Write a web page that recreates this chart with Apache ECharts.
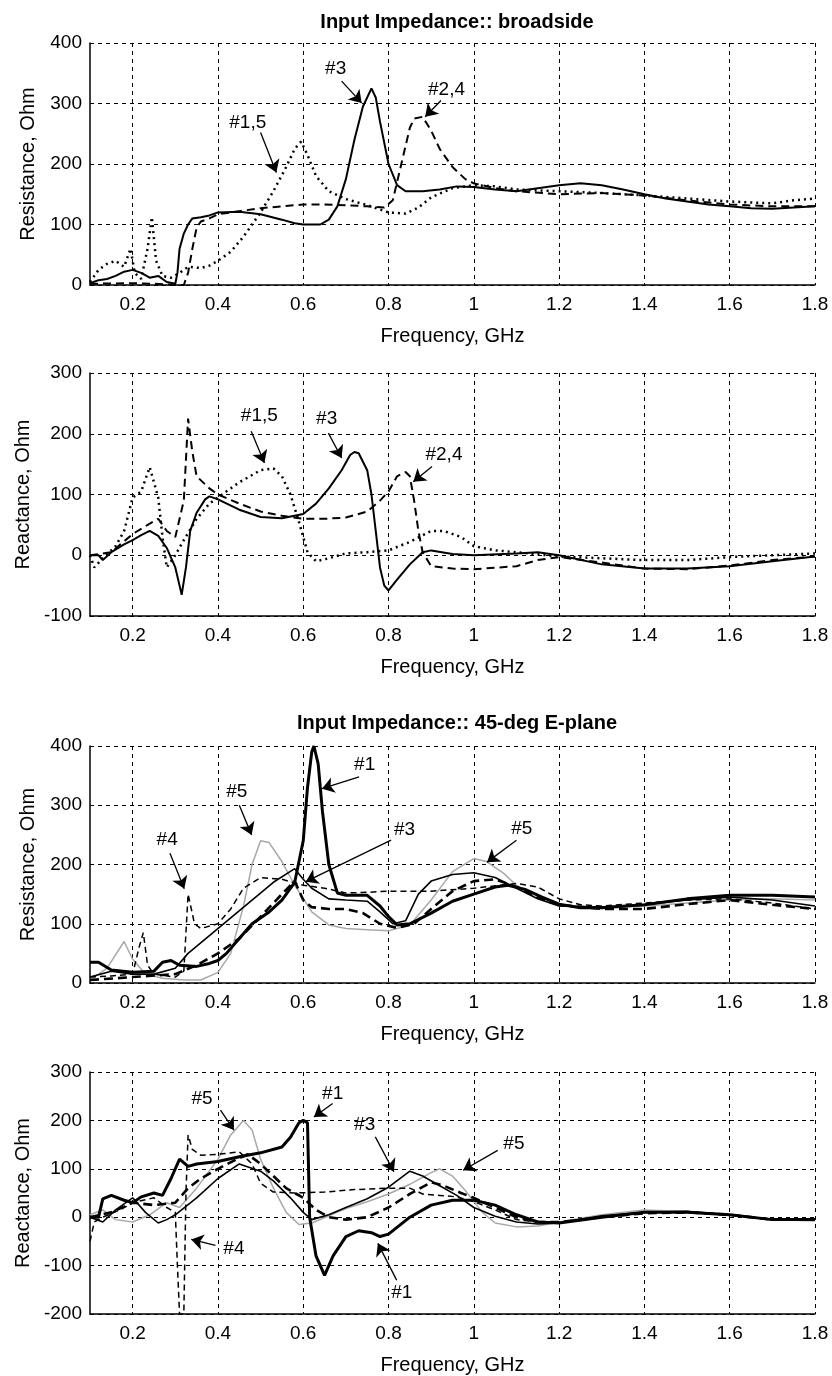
<!DOCTYPE html>
<html><head><meta charset="utf-8">
<script src="https://cdn.jsdelivr.net/npm/echarts@6/dist/echarts.min.js"></script>
<style>html,body{margin:0;padding:0;background:#fff}#c{width:832px;height:1376px}</style>
</head><body><div id="c"></div><script>
const FONT = 'Liberation Sans, Arial, sans-serif';
const xTicks = [0.2,0.4,0.6,0.8,1.0,1.2,1.4,1.6,1.8];
const titles = ['Input Impedance:: broadside', 'Input Impedance:: 45-deg E-plane'];
const xName = 'Frequency, GHz';
const yNames = ['Resistance, Ohm','Reactance, Ohm','Resistance, Ohm','Reactance, Ohm'];
const yRanges = [[0,400],[-100,300],[0,400],[-200,300]];

// Panel 1: broadside resistance
const br_R_3 = [[0.10,3],[0.12,8],[0.14,10],[0.16,15],[0.18,22],[0.20,25],[0.22,20],[0.24,12],[0.26,15],[0.28,5],[0.30,2],[0.305,20],[0.31,60],[0.32,85],[0.33,100],[0.34,110],[0.36,112],[0.38,115],[0.40,120],[0.45,121],[0.50,117],[0.55,108],[0.58,102],[0.60,100],[0.64,100],[0.66,108],[0.68,130],[0.70,175],[0.72,240],[0.74,295],[0.76,325],[0.77,310],[0.78,270],[0.80,200],[0.82,165],[0.84,155],[0.88,155],[0.92,158],[0.96,163],[1.00,162],[1.05,158],[1.10,155],[1.15,160],[1.20,165],[1.25,168],[1.30,165],[1.35,158],[1.40,150],[1.45,143],[1.50,138],[1.55,133],[1.60,130],[1.65,127],[1.70,126],[1.75,128],[1.80,130]];
const br_R_24 = [[0.10,2],[0.20,3],[0.25,2],[0.30,0],[0.32,0],[0.33,20],[0.34,60],[0.35,95],[0.36,105],[0.38,110],[0.40,117],[0.45,122],[0.50,127],[0.55,130],[0.60,133],[0.65,133],[0.70,132],[0.75,130],[0.79,128],[0.81,140],[0.83,200],[0.85,260],[0.86,275],[0.88,278],[0.90,255],[0.92,225],[0.95,195],[0.98,175],[1.00,168],[1.05,160],[1.10,155],[1.20,150],[1.30,152],[1.40,148],[1.50,140],[1.60,133],[1.70,130],[1.80,130]];
const br_R_15 = [[0.10,5],[0.12,25],[0.14,35],[0.16,40],[0.18,30],[0.195,60],[0.205,20],[0.22,10],[0.235,60],[0.245,112],[0.255,40],[0.27,15],[0.29,12],[0.31,20],[0.33,30],[0.36,28],[0.38,32],[0.40,40],[0.43,55],[0.46,80],[0.50,120],[0.53,155],[0.56,195],[0.58,225],[0.595,237],[0.61,215],[0.63,180],[0.66,155],[0.70,142],[0.75,132],[0.80,120],[0.84,118],[0.87,128],[0.90,145],[0.95,160],[1.00,165],[1.05,163],[1.10,158],[1.20,155],[1.30,152],[1.40,148],[1.50,143],[1.60,138],[1.70,135],[1.75,140],[1.80,143]];

// Panel 2: broadside reactance
const br_X_3 = [[0.10,0],[0.12,0],[0.13,-8],[0.15,5],[0.18,18],[0.20,25],[0.22,33],[0.24,40],[0.26,32],[0.28,12],[0.30,-20],[0.31,-50],[0.315,-65],[0.325,-20],[0.335,40],[0.35,70],[0.37,92],[0.38,97],[0.40,92],[0.45,75],[0.50,63],[0.55,61],[0.60,68],[0.63,85],[0.66,110],[0.69,140],[0.71,165],[0.72,170],[0.73,168],[0.75,140],[0.76,100],[0.77,40],[0.78,-20],[0.79,-50],[0.80,-58],[0.82,-40],[0.85,-15],[0.88,5],[0.90,8],[0.95,2],[1.00,0],[1.10,3],[1.15,5],[1.20,0],[1.30,-15],[1.40,-22],[1.50,-22],[1.60,-18],[1.70,-10],[1.80,-2]];
const br_X_24 = [[0.10,0],[0.15,5],[0.20,35],[0.24,52],[0.26,60],[0.28,40],[0.30,30],[0.32,90],[0.33,225],[0.34,170],[0.35,130],[0.38,110],[0.40,100],[0.45,85],[0.50,72],[0.55,65],[0.60,60],[0.65,60],[0.70,62],[0.75,72],[0.78,90],[0.80,105],[0.82,130],[0.84,137],[0.85,130],[0.86,90],[0.87,40],[0.88,5],[0.90,-18],[0.95,-22],[1.00,-23],[1.10,-18],[1.15,-8],[1.20,-3],[1.30,-12],[1.40,-22],[1.50,-23],[1.60,-17],[1.70,-8],[1.80,-2]];
const br_X_15 = [[0.10,0],[0.11,-20],[0.13,-5],[0.16,15],[0.18,40],[0.20,95],[0.22,105],[0.24,145],[0.26,95],[0.27,30],[0.28,-20],[0.30,0],[0.32,25],[0.35,60],[0.38,85],[0.40,95],[0.45,120],[0.50,140],[0.53,143],[0.55,130],[0.57,100],[0.59,55],[0.61,5],[0.63,-10],[0.66,-5],[0.70,3],[0.75,5],[0.80,8],[0.85,22],[0.90,40],[0.93,40],[0.97,30],[1.00,15],[1.05,8],[1.10,5],[1.20,-2],[1.30,-5],[1.40,-8],[1.50,-8],[1.60,-3],[1.70,0],[1.80,3]];

// Panel 3: 45-deg E-plane resistance
const e_R_1 = [[0.10,35],[0.12,35],[0.15,22],[0.20,18],[0.25,20],[0.27,35],[0.29,38],[0.31,30],[0.35,28],[0.38,33],[0.40,38],[0.42,50],[0.45,75],[0.48,100],[0.52,120],[0.55,140],[0.58,170],[0.60,240],[0.61,330],[0.62,390],[0.625,400],[0.635,370],[0.645,290],[0.66,200],[0.68,152],[0.70,148],[0.75,148],[0.78,130],[0.80,112],[0.82,98],[0.85,100],[0.90,118],[0.95,138],[1.00,150],[1.05,162],[1.08,165],[1.12,158],[1.16,145],[1.20,133],[1.25,127],[1.30,127],[1.40,132],[1.50,142],[1.60,148],[1.70,148],[1.80,145]];
const e_R_2 = [[0.10,5],[0.20,10],[0.30,15],[0.35,30],[0.40,50],[0.45,75],[0.50,112],[0.55,150],[0.58,172],[0.60,140],[0.62,128],[0.66,125],[0.70,125],[0.74,118],[0.78,100],[0.82,93],[0.86,100],[0.90,125],[0.95,155],[1.00,172],[1.05,175],[1.10,162],[1.15,145],[1.20,132],[1.30,125],[1.40,125],[1.50,133],[1.60,140],[1.70,132],[1.80,125]];
const e_R_3 = [[0.10,10],[0.15,20],[0.20,15],[0.25,15],[0.30,25],[0.33,50],[0.38,80],[0.43,110],[0.48,140],[0.53,170],[0.58,193],[0.60,175],[0.62,160],[0.66,142],[0.70,140],[0.75,138],[0.78,120],[0.81,100],[0.84,105],[0.87,150],[0.90,172],[0.95,183],[1.00,186],[1.05,178],[1.10,160],[1.15,142],[1.20,130],[1.30,128],[1.40,132],[1.50,140],[1.60,145],[1.70,140],[1.80,130]];
const e_R_4 = [[0.10,10],[0.15,12],[0.20,15],[0.215,60],[0.225,85],[0.235,30],[0.25,15],[0.30,10],[0.32,20],[0.33,150],[0.345,100],[0.36,92],[0.40,100],[0.43,125],[0.46,160],[0.50,178],[0.55,175],[0.60,165],[0.65,160],[0.70,152],[0.75,153],[0.80,155],[0.90,155],[1.00,160],[1.10,168],[1.15,162],[1.20,142],[1.25,132],[1.30,130],[1.40,135],[1.50,140],[1.60,142],[1.70,135],[1.80,125]];
const e_R_5 = [[0.10,5],[0.14,25],[0.18,70],[0.20,40],[0.23,15],[0.27,8],[0.32,5],[0.36,5],[0.40,18],[0.43,50],[0.46,130],[0.48,200],[0.50,240],[0.52,237],[0.55,205],[0.58,165],[0.62,120],[0.66,98],[0.70,92],[0.75,90],[0.80,88],[0.85,98],[0.90,140],[0.95,188],[1.00,210],[1.03,205],[1.07,185],[1.10,165],[1.15,142],[1.20,130],[1.30,128],[1.40,130],[1.50,135],[1.60,140],[1.70,142],[1.80,140]];

// Panel 4: 45-deg E-plane reactance
const e_X_1 = [[0.10,0],[0.12,0],[0.13,38],[0.15,45],[0.18,35],[0.20,30],[0.22,42],[0.25,50],[0.27,45],[0.29,80],[0.31,120],[0.33,105],[0.35,110],[0.40,115],[0.45,125],[0.50,133],[0.55,145],[0.57,165],[0.59,195],[0.60,200],[0.61,195],[0.615,0],[0.63,-80],[0.65,-120],[0.67,-80],[0.70,-40],[0.73,-28],[0.76,-32],[0.78,-40],[0.80,-35],[0.85,0],[0.90,25],[0.95,35],[1.00,35],[1.05,25],[1.10,5],[1.15,-10],[1.20,-12],[1.30,0],[1.40,10],[1.50,10],[1.60,5],[1.70,-5],[1.80,-5]];
const e_X_2 = [[0.10,0],[0.15,10],[0.20,30],[0.25,25],[0.30,30],[0.33,60],[0.36,80],[0.40,100],[0.44,118],[0.47,130],[0.50,110],[0.53,85],[0.56,60],[0.60,40],[0.63,15],[0.66,0],[0.70,-5],[0.75,0],[0.80,20],[0.85,48],[0.90,72],[0.93,65],[0.97,50],[1.00,40],[1.05,20],[1.10,0],[1.15,-10],[1.20,-10],[1.30,0],[1.40,8],[1.50,10],[1.60,5],[1.70,-5],[1.80,-5]];
const e_X_3 = [[0.10,0],[0.13,-10],[0.16,15],[0.20,40],[0.23,10],[0.26,-12],[0.28,-5],[0.30,5],[0.35,40],[0.40,80],[0.45,110],[0.50,95],[0.53,75],[0.57,40],[0.60,10],[0.62,-5],[0.66,5],[0.70,20],[0.75,38],[0.80,62],[0.85,95],[0.88,85],[0.92,65],[0.96,45],[1.00,20],[1.05,2],[1.10,-10],[1.15,-14],[1.20,-12],[1.30,3],[1.40,10],[1.50,12],[1.60,5],[1.70,-5],[1.80,-6]];
const e_X_4 = [[0.10,-50],[0.11,-10],[0.13,0],[0.17,15],[0.20,30],[0.25,40],[0.28,20],[0.30,10],[0.305,-100],[0.31,-200],[0.32,-200],[0.325,50],[0.33,170],[0.34,140],[0.36,128],[0.40,130],[0.45,135],[0.48,110],[0.50,70],[0.53,52],[0.58,50],[0.65,52],[0.72,57],[0.80,60],[0.85,60],[0.88,48],[0.92,45],[0.96,42],[1.00,32],[1.05,15],[1.10,-5],[1.15,-10],[1.20,-10],[1.30,0],[1.40,10],[1.50,10],[1.60,5],[1.70,-5],[1.80,-5]];
const e_X_5 = [[0.10,5],[0.13,15],[0.16,-5],[0.20,-10],[0.24,5],[0.28,30],[0.31,20],[0.35,60],[0.40,120],[0.43,170],[0.46,200],[0.48,180],[0.50,120],[0.53,60],[0.56,10],[0.59,-15],[0.62,-12],[0.66,3],[0.70,18],[0.75,32],[0.80,48],[0.85,68],[0.90,92],[0.92,100],[0.95,85],[0.98,55],[1.02,10],[1.05,-12],[1.10,-20],[1.15,-18],[1.20,-10],[1.30,5],[1.40,15],[1.50,12],[1.60,5],[1.70,-5],[1.80,-8]];

// Annotations (data coordinates): label position, arrow start, arrow end
const ann_br_R = [
  {text:'#3', at:[0.676,358], from:[0.69,337], to:[0.737,301]},
  {text:'#2,4', at:[0.936,322], from:[0.923,305], to:[0.886,278]},
  {text:'#1,5', at:[0.47,268], from:[0.50,252], to:[0.537,186]}
];
const ann_br_X = [
  {text:'#1,5', at:[0.497,230], from:[0.478,204], to:[0.509,152]},
  {text:'#3', at:[0.655,224], from:[0.659,201], to:[0.69,160]},
  {text:'#2,4', at:[0.93,165], from:[0.902,146], to:[0.858,121]}
];
const ann_e_R = [
  {text:'#1', at:[0.744,368], from:[0.731,348], to:[0.644,328]},
  {text:'#5', at:[0.444,323], from:[0.45,300], to:[0.479,250]},
  {text:'#4', at:[0.281,241], from:[0.2875,219], to:[0.321,159]},
  {text:'#3', at:[0.8375,258], from:[0.806,241], to:[0.606,171]},
  {text:'#5', at:[1.1125,261], from:[1.10,241], to:[1.031,204]}
];
const ann_e_X = [
  {text:'#1', at:[0.669,255], from:[0.669,235], to:[0.625,207]},
  {text:'#5', at:[0.3625,245], from:[0.406,221], to:[0.4375,180]},
  {text:'#3', at:[0.744,190], from:[0.769,166], to:[0.8125,94]},
  {text:'#5', at:[1.094,152], from:[1.056,138], to:[0.975,97]},
  {text:'#4', at:[0.4375,-65], from:[0.394,-58], to:[0.3375,-46]},
  {text:'#1', at:[0.831,-157], from:[0.819,-130], to:[0.775,-54]}
];

const grids = [
  {left:90, width:725, top:43, height:242},
  {left:90, width:725, top:373, height:243},
  {left:90, width:725, top:746, height:237},
  {left:90, width:725, top:1072, height:242}
];

const FS = 19;
const NFS = 20;
const gridLine = {show:true, lineStyle:{color:'#000', width:1, type:[4,4]}};

const xAxes = grids.map((g,i)=>({
  type:'value', gridIndex:i, min:0.1, max:1.8,
  name:xName, nameLocation:'middle', nameGap:41,
  nameTextStyle:{fontSize:NFS, color:'#000', fontFamily:FONT},
  axisLine:{show:true, onZero:false, lineStyle:{color:'#000', width:1.5}},
  axisTick:{show:false, customValues:xTicks},
  axisLabel:{customValues:xTicks, formatter:v=>String(+(+v).toFixed(1)), fontSize:FS, color:'#000', margin:10, fontFamily:FONT},
  splitLine:gridLine
}));
const yAxes = grids.map((g,i)=>({
  type:'value', gridIndex:i, min:yRanges[i][0], max:yRanges[i][1], interval:100,
  name:yNames[i], nameLocation:'middle', nameGap:52,
  nameTextStyle:{fontSize:NFS, color:'#000', fontFamily:FONT},
  axisLine:{show:true, onZero:false, lineStyle:{color:'#000', width:1.5}},
  axisTick:{show:false},
  axisLabel:{fontSize:FS, color:'#000', margin:8, fontFamily:FONT},
  splitLine:gridLine
}));

function ser(name, data, gi, ls){
  return {type:'line', name, data, xAxisIndex:gi, yAxisIndex:gi, symbol:'none', showSymbol:false,
    lineStyle:Object.assign({color:'#000'}, ls), silent:true, animation:false, z:3};
}
function annSeries(gi, anns){
  return {type:'line', xAxisIndex:gi, yAxisIndex:gi, data:[], symbol:'none', silent:true, animation:false, z:5,
    markLine:{silent:true, animation:false, symbol:['none','arrow'], symbolSize:12,
      lineStyle:{color:'#000', width:1.3, type:'solid'}, itemStyle:{color:'#000'}, label:{show:false},
      data:anns.map(a=>[{coord:a.from},{coord:a.to}])},
    markPoint:{silent:true, animation:false, symbol:'rect', symbolSize:1, itemStyle:{color:'rgba(0,0,0,0)'},
      label:{show:true, position:'inside', formatter:'{b}', fontSize:FS, color:'#000', fontFamily:FONT},
      data:anns.map(a=>({coord:a.at, name:a.text}))}
  };
}

const SOLID = {type:'solid', width:2};
const DASH = {type:[8,5], width:2};
const DOT = {type:[2,4], width:2.5};
const THICK = {type:'solid', width:3};
const THIN = {type:'solid', width:1.6};
const DASH2 = {type:[9,5], width:2.6};
const DASH1 = {type:[6,4], width:1.5};
const GRAY = {type:'solid', width:1.5, color:'#a8a8a8'};

const series = [
  ser('#1,5', br_R_15, 0, DOT), ser('#2,4', br_R_24, 0, DASH), ser('#3', br_R_3, 0, SOLID),
  ser('#1,5', br_X_15, 1, DOT), ser('#2,4', br_X_24, 1, DASH), ser('#3', br_X_3, 1, SOLID),
  ser('#5', e_R_5, 2, GRAY), ser('#4', e_R_4, 2, DASH1), ser('#2', e_R_2, 2, DASH2), ser('#3', e_R_3, 2, THIN), ser('#1', e_R_1, 2, THICK),
  ser('#5', e_X_5, 3, GRAY), ser('#4', e_X_4, 3, DASH1), ser('#2', e_X_2, 3, DASH2), ser('#3', e_X_3, 3, THIN), ser('#1', e_X_1, 3, THICK),
  annSeries(0, ann_br_R), annSeries(1, ann_br_X), annSeries(2, ann_e_R), annSeries(3, ann_e_X)
];

const chart = echarts.init(document.getElementById('c'), null, {renderer:'canvas'});
chart.setOption({
  animation:false,
  backgroundColor:'#fff',
  title:[
    {text:titles[0], left:452, top:7, textAlign:'center', textStyle:{fontSize:20, fontWeight:'bold', color:'#000', fontFamily:FONT}},
    {text:titles[1], left:452, top:708, textAlign:'center', textStyle:{fontSize:20, fontWeight:'bold', color:'#000', fontFamily:FONT}}
  ],
  grid:grids,
  xAxis:xAxes,
  yAxis:yAxes,
  series:series
});
</script></body></html>
